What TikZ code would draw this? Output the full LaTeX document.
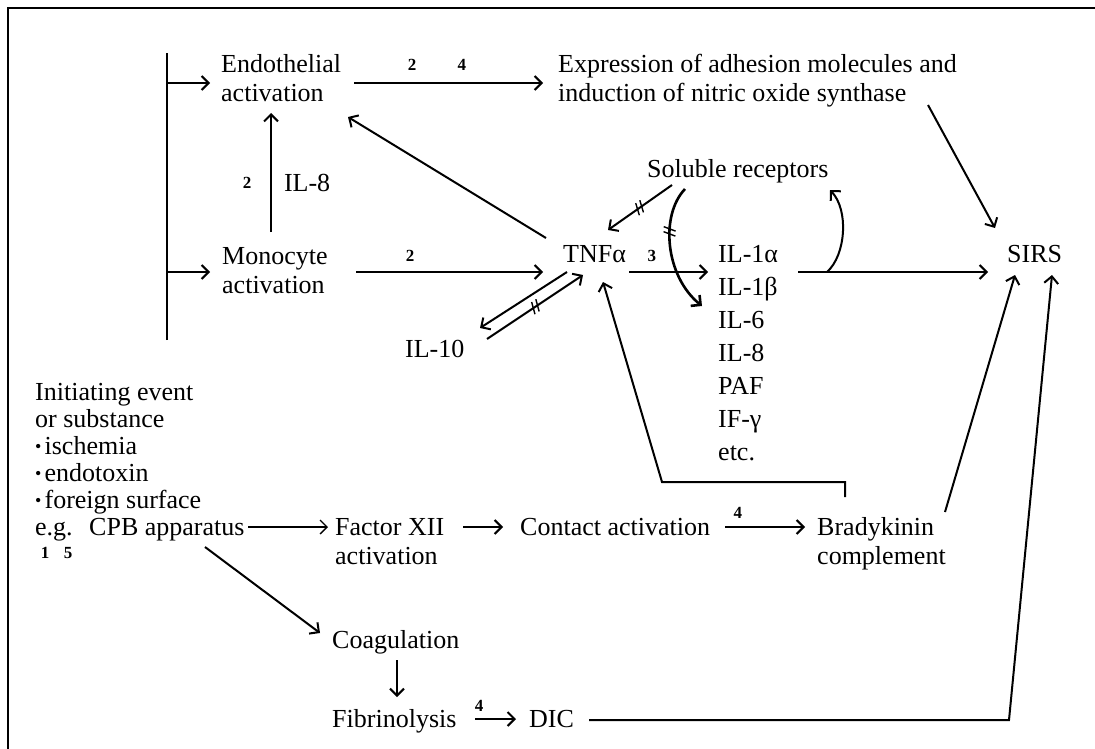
\documentclass[tikz,border=0pt]{standalone}
\usepackage{fontspec}
\setmainfont{Liberation Serif}
\usetikzlibrary{arrows.meta,decorations.markings}
\newcommand{\mlines}[1]{\begin{tabular}[t]{@{}l@{}}#1\end{tabular}}
\newcommand{\bul}{\raisebox{2pt}{\fontsize{18}{18}\selectfont •}\hspace{0.12em}}
\begin{document}
\begin{tikzpicture}[x=1pt,y=-1pt,
  txt/.style={inner sep=0pt, anchor=base west, font=\fontsize{26}{29}\selectfont},
  lbl/.style={inner sep=0pt, font=\fontsize{17}{20}\selectfont\bfseries},
  arr/.style={line width=2pt, -{Straight Barb[length=7pt,width=14pt]}},
  ln/.style={line width=2pt},
  brk/.style={postaction={decorate}, decoration={markings, mark=at position #1 with {\draw[-,line width=1.4pt] (-4pt,-6pt) -- (0pt,6pt) (1pt,-6pt) -- (5pt,6pt);}}}
]
\useasboundingbox (0,0) rectangle (1095,749);
\draw[line width=2.5pt] (8,749) -- (8,8) -- (1095,8);

% nodes
\node[txt] (endo) at (221,73) {\mlines{Endothelial\\activation}};
\node[txt] (expr) at (558,73) {\mlines{Expression of adhesion molecules and\\induction of nitric oxide synthase}};
\node[txt] (mono) at (222,264) {\mlines{Monocyte\\activation}};
\node[txt] (tnf) at (563,262) {TNFα};
\node[txt] (sol) at (647,177) {Soluble receptors};
\node[txt, font=\fontsize{26}{33}\selectfont] (il) at (718,262) {\mlines{IL-1α\\IL-1β\\IL-6\\IL-8\\PAF\\IF-γ\\etc.}};
\node[txt] (il10) at (405,357) {IL-10};
\node[txt] (sirs) at (1007,262) {SIRS};
\node[txt, font=\fontsize{26}{27}\selectfont] (init) at (35,400) {\mlines{Initiating event\\or substance\\\bul ischemia\\\bul endotoxin\\\bul foreign surface\\e.g.\hspace{0.3em} CPB apparatus}};
\node[txt] (f12) at (335,535) {\mlines{Factor XII\\activation}};
\node[txt] (contact) at (520,535) {Contact activation};
\node[txt] (brady) at (817,535) {\mlines{Bradykinin\\complement}};
\node[txt] (coag) at (332,648) {Coagulation};
\node[txt] (fib) at (332,727) {Fibrinolysis};
\node[txt] (dic) at (529,727) {DIC};
\node[lbl] (n1) at (45,553) {1};
\node[lbl] (n5) at (68,553) {5};

% bracket from initiating event
\draw[ln] ([shift={(132,-60)}]init.base west) -- ([shift={(-54,-20)}]endo.base west);
\draw[arr] ([shift={(-54,10)}]endo.base west) -- ([shift={(-11,10)}]endo.base west);
\draw[arr] ([shift={(-55,8)}]mono.base west) -- ([shift={(-12,8)}]mono.base west);

% endothelial -> expression
\draw[arr] ([shift={(133,10)}]endo.base west) -- node[lbl,pos=0.307,yshift=18pt]{2} node[lbl,pos=0.571,yshift=18pt]{4} ([shift={(-15,10)}]expr.base west);

% monocyte -> endothelial (IL-8)
\draw[arr] ([shift={(49,-32)}]mono.base west) -- node[lbl,pos=0.41,xshift=-24pt]{2} node[txt,anchor=west,pos=0.41,xshift=12pt]{IL-8} ([shift={(50,40)}]endo.base west);

% monocyte -> TNF
\draw[arr] ([shift={(134,8)}]mono.base west) -- node[lbl,pos=0.289,yshift=16pt]{2} ([shift={(-20,10)}]tnf.base west);

% TNF -> IL list
\draw[arr] ([shift={(66,10)}]tnf.base west) -- node[lbl,pos=0.29,yshift=16pt]{3} ([shift={(-10,10)}]il.base west);

% TNF -> endothelial
\draw[arr] ([shift={(-17,-24)}]tnf.base west) -- ([shift={(127,44)}]endo.base west);

% expression -> SIRS
\draw[arr] ([shift={(370,32)}]expr.base west) -- ([shift={(-12,-34)}]sirs.base west);

% IL list -> SIRS
\draw[arr] ([shift={(80,10)}]il.base west) -- ([shift={(-19,10)}]sirs.base west);

% branch up to soluble receptors
\draw[arr] ([shift={(109,10)}]il.base west) .. controls +(19,-17) and +(19,20) .. ([shift={(183,13)}]sol.base west);

% soluble receptors -| TNF
\draw[arr, brk=0.5] ([shift={(25,8)}]sol.base west) -- ([shift={(45,-32)}]tnf.base west);

% soluble receptors -| IL-6
\draw[arr, line width=2.6pt, brk=0.35] ([shift={(38,12)}]sol.base west) .. controls +(-25,26) and +(-37,-30) .. ([shift={(-16,44)}]il.base west);

% TNF <-> IL-10
\draw[arr] ([shift={(4,10)}]tnf.base west) -- ([shift={(75,-29)}]il10.base west);
\draw[arr, brk=0.5] ([shift={(82,-18)}]il10.base west) -- ([shift={(20,13)}]tnf.base west);

% bradykinin -> TNF
\draw[arr] ([shift={(28,-38)}]brady.base west) -- ++(0,-15) -- ++(-183,0) -- ([shift={(40,20)}]tnf.base west);

% bradykinin -> SIRS
\draw[arr] ([shift={(128,-23)}]brady.base west) -- ([shift={(8,13)}]sirs.base west);

% DIC -> SIRS
\draw[arr] ([shift={(60,-7)}]dic.base west) -- ++(420,0) -- ([shift={(45,13)}]sirs.base west);

% fibrinolysis -> DIC
\draw[arr] ([shift={(143,-8)}]fib.base west) -- node[lbl,pos=0.1,yshift=13pt]{4} ([shift={(-13,-8)}]dic.base west);

% coagulation -> fibrinolysis
\draw[arr] ([shift={(65,12)}]coag.base west) -- ([shift={(65,-30)}]fib.base west);

% CPB -> factor XII
\draw[arr, line width=1.3pt] ([shift={(213,127)}]init.base west) -- ([shift={(-7,-8)}]f12.base west);

% factor XII -> contact
\draw[arr] ([shift={(128,-8)}]f12.base west) -- ([shift={(-17,-8)}]contact.base west);

% contact -> bradykinin
\draw[arr] ([shift={(205,-8)}]contact.base west) -- node[lbl,pos=0.16,yshift=14pt]{4} ([shift={(-12,-8)}]brady.base west);

% CPB -> coagulation
\draw[arr] ([shift={(170,147)}]init.base west) -- ([shift={(-12,-15)}]coag.base west);
\end{tikzpicture}
\end{document}
